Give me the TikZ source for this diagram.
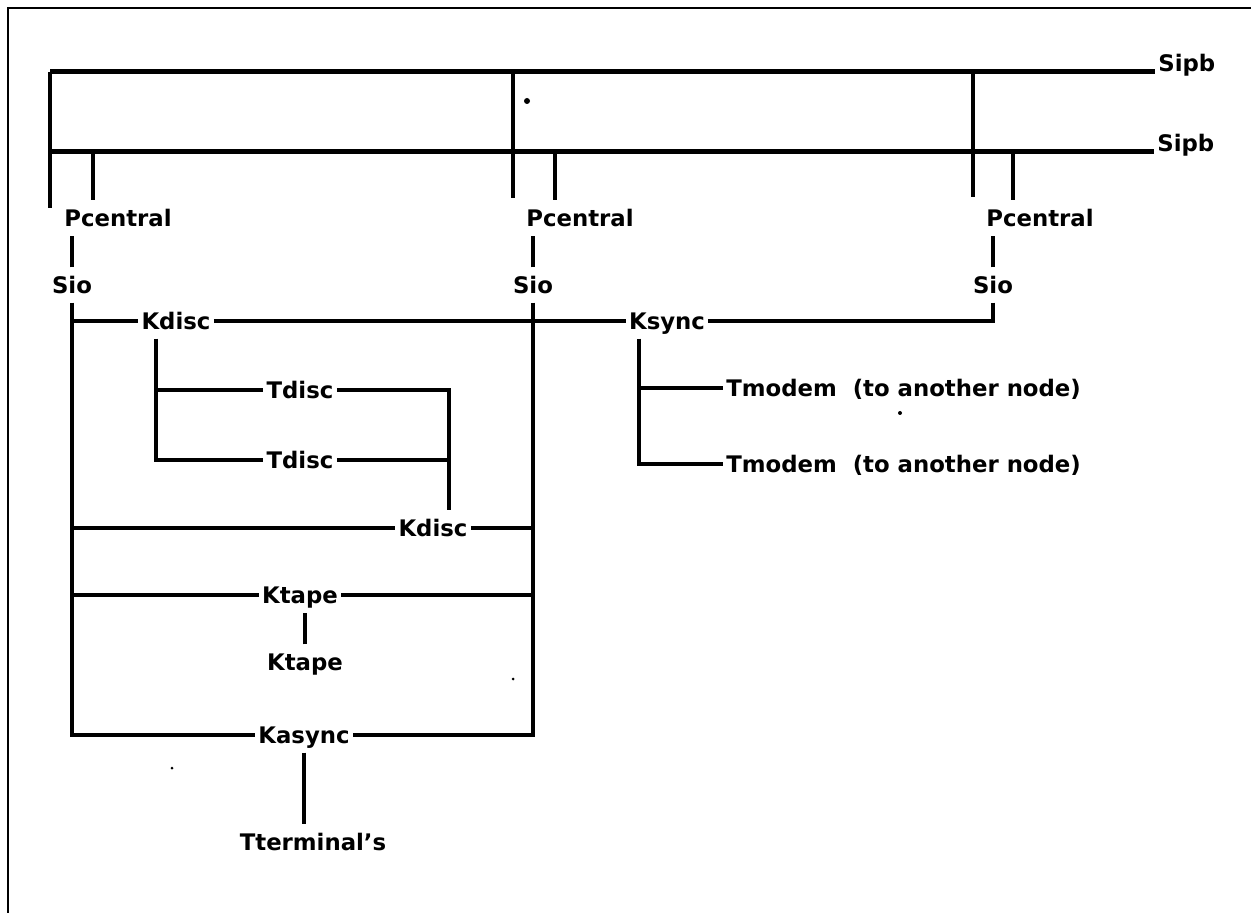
\documentclass[tikz,border=0pt]{standalone}
\usepackage{fontspec}
\setmainfont{DejaVu Sans}
\begin{document}
\begin{tikzpicture}[x=0.5pt,y=-0.5pt,
  lbl/.style={font=\bfseries\fontsize{11.4}{13}\selectfont, inner xsep=1.5pt, inner ysep=4.5pt, text height=8.3pt, text depth=0pt},
  sipb/.style={lbl, inner ysep=0pt, anchor=south west},
  ln/.style={line width=2pt},
  thinln/.style={line width=1.6pt},
  bus/.style={line width=2.5pt},
  frame/.style={line width=1pt},
  speck/.style={fill=black}]
\useasboundingbox (0,0) rectangle (1251,913);
% frame
\draw[frame] (8,913) -- (8,8) -- (1251,8);

% bus labels
\node[sipb] (sipbA) at (1155,72) {Sipb};
\node[sipb] (sipbB) at (1154,152) {Sipb};

% processors
\node[lbl] (pc1) at (118,218) {Pcentral};
\node[lbl] (pc2) at (580,218) {Pcentral};
\node[lbl] (pc3) at (1040,218) {Pcentral};
\node[lbl] (sio1) at (72,285) {Sio};
\node[lbl] (sio2) at (533,285) {Sio};
\node[lbl] (sio3) at (993,285) {Sio};

% controllers and devices
\node[lbl] (kdisc1) at (176,321) {Kdisc};
\node[lbl] (ksync) at (667,321) {Ksync};
\node[lbl] (tdisc1) at (300,390) {Tdisc};
\node[lbl] (tdisc2) at (300,460) {Tdisc};
\node[lbl, anchor=west] (tm1) at (723,388) {Tmodem\ \ (to another node)};
\node[lbl, anchor=west] (tm2) at (723,464) {Tmodem\ \ (to another node)};
\node[lbl] (kdisc2) at (433,528) {Kdisc};
\node[lbl] (ktape1) at (300,595) {Ktape};
\node[lbl] (ktape2) at (305,662) {Ktape};
\node[lbl] (kasync) at (304,735) {Kasync};
\node[lbl] (tterm) at (313,842) {Tterminal's};

% bus coordinates
\coordinate (b1L) at (50,72);
\coordinate (b2L) at (50,152);
\coordinate (s1e) at (50,208);
\coordinate (b1g2) at (513,72);
\coordinate (s2e) at (513,198);
\coordinate (b1g3) at (973,72);
\coordinate (s3e) at (973,197);
\coordinate (b2g1) at (93,152);
\coordinate (b2g2) at (555,152);
\coordinate (b2g3) at (1013,152);
\coordinate (kdj) at (156,0);
\coordinate (rj) at (449,0);
\coordinate (kj) at (639,0);

% buses
\draw[bus] (b1L) -- (sipbA.south west);
\draw[bus] (b2L) -- (sipbB.south west);
\draw[ln] (b1L) -- (s1e);
\draw[ln] (b1g2) -- (s2e);
\draw[ln] (b1g3) -- (s3e);
\draw[ln] (b2g1) -- (b2g1 |- pc1.north);
\draw[ln] (b2g2) -- (b2g2 |- pc2.north);
\draw[ln] (b2g3) -- (b2g3 |- pc3.north);

% Pcentral - Sio
\draw[thinln] (sio1.north) -- (sio1.north |- pc1.south);
\draw[thinln] (sio2.north) -- (sio2.north |- pc2.south);
\draw[thinln] (sio3.north) -- (sio3.north |- pc3.south);

% Sio columns
\draw[ln] (sio1.south) |- (kasync.west);
\draw[ln] (sio2.south) |- (kasync.east);
\draw[ln] (sio3.south) |- (ksync.east);

% row Kdisc / Ksync
\draw[ln] (sio1.south |- kdisc1) -- (kdisc1.west);
\draw[ln] (kdisc1.east) -- (ksync.west);

% Kdisc - Tdisc - Kdisc
\draw[ln] (kdisc1.south -| kdj) |- (tdisc2.west);
\draw[ln] (kdj |- tdisc1) -- (tdisc1.west);
\draw[ln] (tdisc1.east) -| (kdisc2.north -| rj);
\draw[ln] (tdisc2.east) -- (rj |- tdisc2);
\draw[ln] (sio1.south |- kdisc2) -- (kdisc2.west);
\draw[ln] (kdisc2.east) -- (sio2.south |- kdisc2);

% Ksync - Tmodem
\draw[ln] (ksync.south -| kj) |- (tm2.west);
\draw[ln] (kj |- tm1) -- (tm1.west);

% Ktape
\draw[ln] (sio1.south |- ktape1) -- (ktape1.west);
\draw[ln] (ktape1.east) -- (sio2.south |- ktape1);
\draw[ln] (ktape2.north) -- (ktape2.north |- ktape1.south);

% Kasync - terminals
\draw[ln] (kasync.south) -- (kasync.south |- tterm.north);

% specks
\fill[speck] (527,101) circle (3);
\fill[speck] (900,413) circle (2);
\fill[speck] (513,679) circle (1.5);
\fill[speck] (172,768) circle (1.5);
\end{tikzpicture}
\end{document}
